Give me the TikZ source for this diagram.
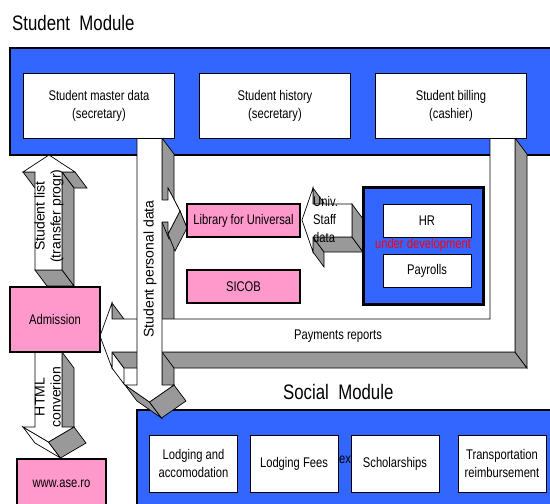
\documentclass[tikz,border=0pt]{standalone}
\usepackage{fontspec}
\setmainfont{Liberation Sans}[FakeStretch=0.8]
\newfontfamily\sidefont{Liberation Sans}
\definecolor{modblue}{RGB}{51,102,255}
\definecolor{boxpink}{RGB}{255,153,204}
\definecolor{sidegray}{RGB}{153,153,153}

\begin{document}
\begin{tikzpicture}[x=1pt,y=-1pt,font=\fontsize{14}{18}\selectfont,
  module/.style={draw,line width=2.5pt,fill=modblue},
  sub box/.style={draw,line width=0.8pt,fill=white,inner sep=0pt,align=center,minimum width=151pt,minimum height=65pt},
  soc box/.style={sub box,minimum width=88pt,minimum height=57pt},
  pink box/.style={draw,line width=2.5pt,fill=boxpink,inner sep=0pt,align=center},
  front/.style={draw,line width=0.7pt,fill=white},
  face/.style={draw,line width=0.7pt,fill=sidegray},
  side label/.style={rotate=90,align=center,inner sep=0pt,font=\sidefont\fontsize{14}{16}\selectfont},
  title/.style={anchor=west,inner sep=0pt,font=\fontsize{21}{24}\selectfont}]

  \useasboundingbox (0,0) rectangle (550,504);
  \clip (0,0) rectangle (550,504);

  \node[title] (stud title) at (12,23) {Student\ \ Module};
  \node[title] (soc title) at (283,392) {Social\ \ Module};

  % the two module bands
  \draw[module] (10,48) rectangle (600,155);
  \draw[module] (137,410) rectangle (600,560);

  % student personal data, side
  \filldraw[face] (162,138) -- (174,154) -- (174,401) -- (162,385) -- cycle;

  % payments reports
  \filldraw[face] (112,303) -- (124,319) -- (124,335) -- (112,319) -- cycle;
  \filldraw[front] (112,352) -- (124,368) -- (124,384) -- (112,368) -- cycle;
  \filldraw[face] (112,352) -- (150,352) -- (150,368) -- (124,368) -- cycle;
  \filldraw[face] (162,352) -- (515,352) -- (527,368) -- (174,368) -- cycle;
  \filldraw[face] (515,138) -- (527,154) -- (527,368) -- (515,352) -- cycle;
  \filldraw[front] (100,336) -- (112,303) -- (112,319) -- (490,319) -- (490,138) -- (515,138)
    -- (515,352) -- (112,352) -- (112,368) -- cycle;
  \node (pay) at (338,336) {Payments reports};

  % student personal data
  \filldraw[face] (125,385) -- (149.5,402) -- (161.5,418) -- (137,401) -- cycle;
  \filldraw[face] (149.5,402) -- (174,385) -- (186,401) -- (161.5,418) -- cycle;
  \filldraw[front] (137,138) -- (162,138) -- (162,385) -- (174,385) -- (149.5,402) -- (125,385)
    -- (137,385) -- cycle;
  \node[side label] (spd) at (150,269) {Student personal data};

  % to the library
  \filldraw[face] (162,222) -- (168,222) -- (175,239) -- (169,239) -- cycle;
  \filldraw[face] (168,188) -- (180,211) -- (187,228) -- (175,205) -- cycle;
  \filldraw[face] (180,211) -- (168,234) -- (175,251) -- (187,228) -- cycle;
  \fill[white] (161,200) -- (168,200) -- (168,188) -- (180,211) -- (168,234) -- (168,222) -- (161,222) -- cycle;
  \draw[line width=0.7pt] (162,200) -- (168,200) -- (168,188) -- (180,211) -- (168,234) -- (168,222) -- (162,222);

  \node[sub box] (smd) at (99,105.5) {Student master data\\(secretary)};
  \node[sub box] (shist) at (275,105.5) {Student history\\(secretary)};
  \node[sub box] (sbill) at (451,105.5) {Student billing\\(cashier)};

  % student list
  \filldraw[face] (23,172) -- (35,172) -- (47,188) -- (35,188) -- cycle;
  \filldraw[face] (62,172) -- (75,172) -- (87,188) -- (74,188) -- cycle;
  \filldraw[face] (62,172) -- (74,188) -- (74,286) -- (62,270) -- cycle;
  \filldraw[face] (35,270) -- (62,270) -- (74,286) -- (47,286) -- cycle;
  \filldraw[front] (49,155) -- (75,172) -- (62,172) -- (62,270) -- (35,270) -- (35,172) -- (23,172) -- cycle;
  \node[side label] (slist) at (49,216) {Student list\\(transfer progr)};

  % html conversion
  \filldraw[face] (62,352) -- (74,368) -- (74,443) -- (62,427) -- cycle;
  \filldraw[front] (23,427) -- (48.5,442) -- (60.5,458) -- (35,443) -- cycle;
  \filldraw[face] (48.5,442) -- (74,427) -- (86,443) -- (60.5,458) -- cycle;
  \filldraw[front] (35,352) -- (62,352) -- (62,427) -- (74,427) -- (48.5,442) -- (23,427) -- (35,427) -- cycle;
  \node[side label] (html) at (48,397) {HTML\\converion};

  \node[pink box,minimum width=90pt,minimum height=65pt] (adm) at (55,319.5) {Admission};
  \node[pink box,minimum width=89pt,minimum height=50pt] (www) at (61.5,484) {www.ase.ro};

  \node[pink box,minimum width=113pt,minimum height=33pt] (lib) at (243.5,220.5) {Library for Universal};
  \node[pink box,minimum width=113pt,minimum height=33pt] (sicob) at (243.5,286.5) {SICOB};

  % univ. staff data
  \filldraw[face] (313,188) -- (324,203) -- (324,219) -- (313,204) -- cycle;
  \filldraw[face] (313,237) -- (324,252) -- (324,267) -- (313,252) -- cycle;
  \filldraw[face] (313,237) -- (352,237) -- (363,252) -- (324,252) -- cycle;
  \filldraw[face] (352,204) -- (363,219) -- (363,252) -- (352,237) -- cycle;
  \filldraw[front] (302,220) -- (313,188) -- (313,204) -- (352,204) -- (352,237) -- (313,237) -- (313,252) -- cycle;
  \node[anchor=west,align=left,inner sep=0pt] (staff) at (313,219) {Univ.\\Staff\\data};

  \node[module,line width=3pt,inner sep=0pt,minimum width=120pt,minimum height=117pt] (hrblock) at (423,245.5) {};
  \node[sub box,minimum width=88pt,minimum height=33pt] (hr) at (427,220.5) {HR};
  \node[sub box,minimum width=88pt,minimum height=33pt] (pays) at (427,270.5) {Payrolls};
  \node[red,inner sep=0pt] (undev) at (423,245) {under development};

  \node[soc box] (lodg) at (193.5,463.5) {Lodging and\\accomodation};
  \node[soc box] (fees) at (294,463.5) {Lodging Fees};
  \node[anchor=base west,inner sep=0pt] (ex) at (339,463) {ex};
  \node[soc box] (schol) at (395,463.5) {Scholarships};
  \node[soc box] (transp) at (502,463.5) {Transportation\\reimbursement};
\end{tikzpicture}
\end{document}
